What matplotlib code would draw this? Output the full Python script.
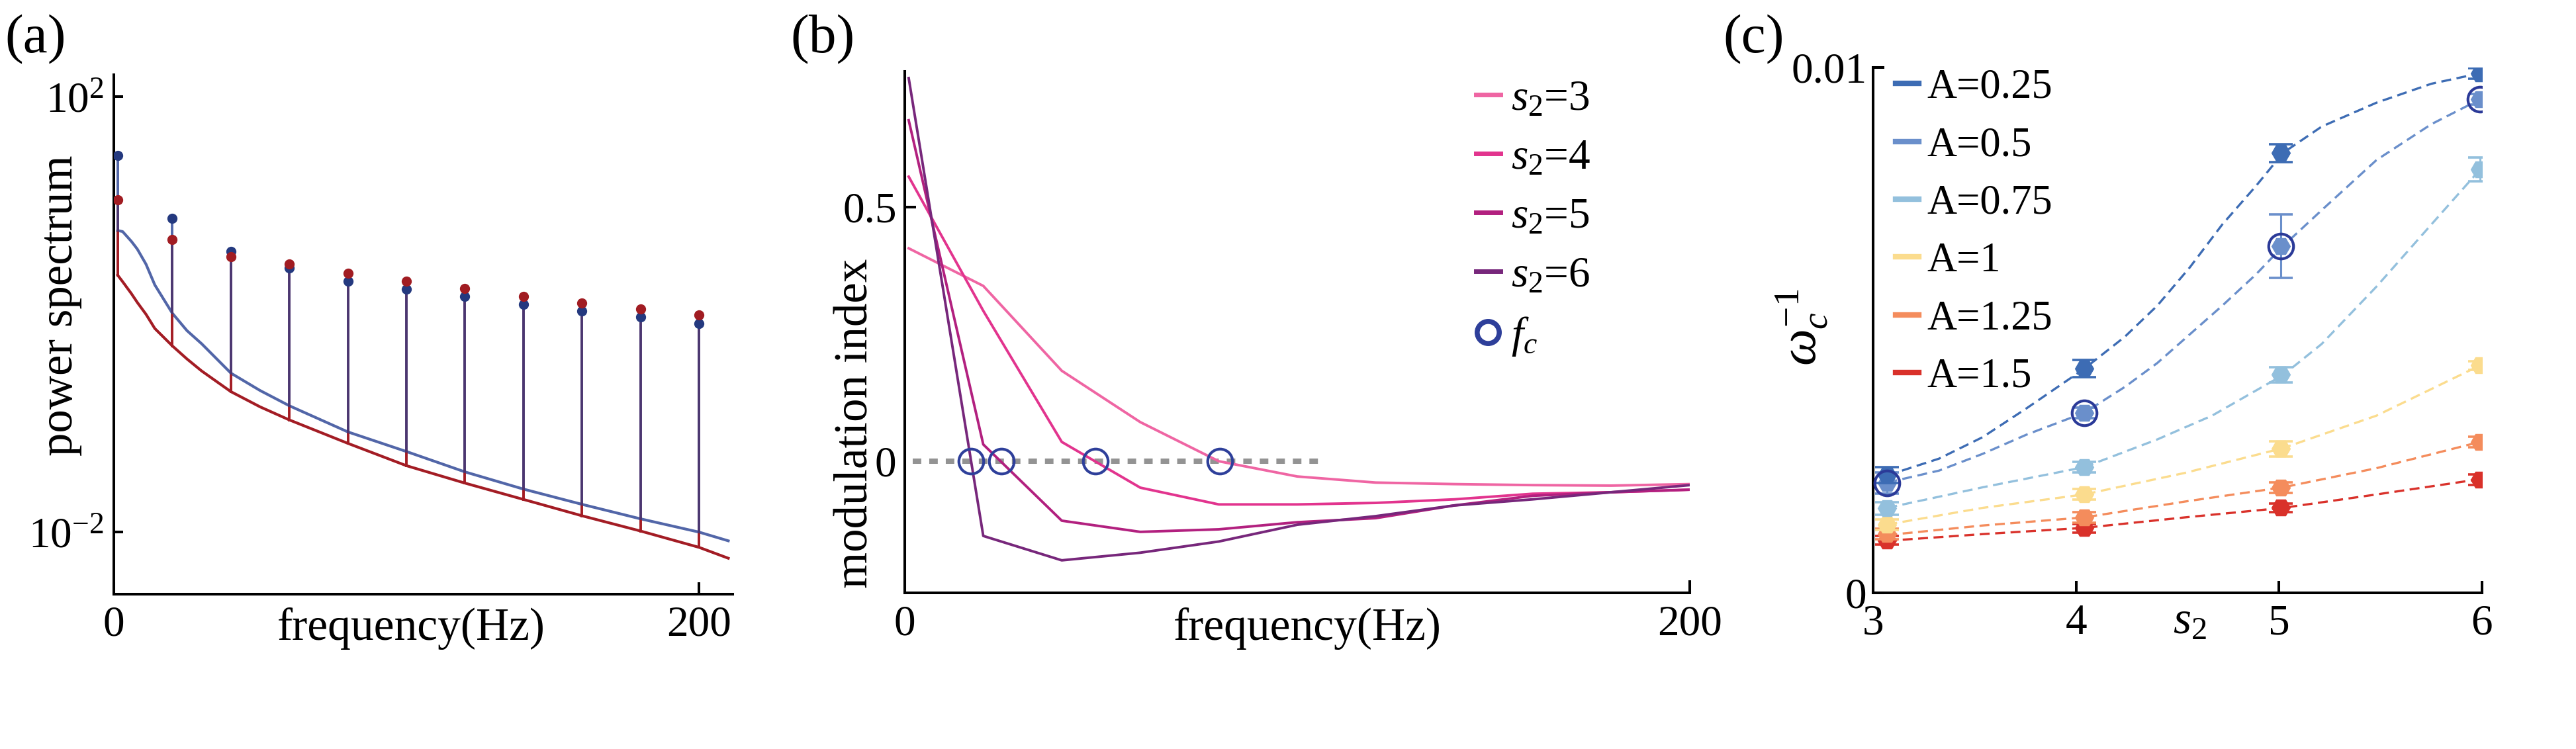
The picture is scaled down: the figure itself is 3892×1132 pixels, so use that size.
import numpy as np
import matplotlib
matplotlib.use('Agg')
import matplotlib.pyplot as plt
from matplotlib.lines import Line2D
from matplotlib.ticker import NullLocator, FixedLocator

W, H, DPI = 3892, 1132, 100

plt.rcParams['font.family'] = ['Liberation Serif', 'DejaVu Serif']
plt.rcParams['mathtext.fontset'] = 'custom'
plt.rcParams['mathtext.rm'] = 'Liberation Serif'
plt.rcParams['mathtext.it'] = 'Liberation Serif:italic'
plt.rcParams['mathtext.bf'] = 'Liberation Serif:bold'

# ---------------- Panel (a) data: log10 power ----------------
spike_freq = [1.3, 20, 40, 60, 80, 100, 120, 140, 160, 180, 200]
blue_peak_log = [1.46, 0.88, 0.579, 0.425, 0.307, 0.232, 0.162, 0.092, 0.03, -0.027, -0.084]
red_peak_log = [1.053, 0.684, 0.53, 0.464, 0.377, 0.302, 0.236, 0.166, 0.105, 0.048, -0.005]
base_freq = [1.3, 3, 6, 8, 11, 14, 20, 25, 30, 40, 50, 60, 80, 100, 120, 140, 160, 180, 200, 210]
blue_base_log = [0.77, 0.76, 0.67, 0.60, 0.46, 0.27, 0.01, -0.15, -0.27, -0.54, -0.70, -0.84,
                 -1.08, -1.26, -1.447, -1.605, -1.745, -1.878, -2.0, -2.08]
red_base_log = [0.36, 0.30, 0.19, 0.11, 0.0, -0.13, -0.29, -0.41, -0.52, -0.71, -0.85, -0.97,
                -1.185, -1.39, -1.55, -1.70, -1.85, -1.99, -2.14, -2.24]

# ---------------- Panel (b) data ----------------
b_freq = [1, 20, 40, 60, 80, 100, 120, 140, 160, 180, 200]
mod_s3 = [0.419, 0.345, 0.178, 0.077, 0.0, -0.03, -0.042, -0.045, -0.047, -0.048, -0.045]
mod_s4 = [0.56, 0.296, 0.038, -0.052, -0.085, -0.085, -0.082, -0.075, -0.064, -0.061, -0.056]
mod_s5 = [0.671, 0.033, -0.117, -0.139, -0.134, -0.12, -0.112, -0.087, -0.068, -0.061, -0.056]
mod_s6 = [0.754, -0.147, -0.195, -0.18, -0.158, -0.125, -0.108, -0.087, -0.075, -0.061, -0.047]
b_labels = [r'$s_2$=3', r'$s_2$=4', r'$s_2$=5', r'$s_2$=6']
fc_freq = [80.3, 48.5, 24.6, 16.9]
zero_line_f = [2, 106]

# ---------------- Panel (c) data ----------------
s2_vals = [3.07, 4.04, 5.01, 5.99]
A_labels = ['A=0.25', 'A=0.5', 'A=0.75', 'A=1', 'A=1.25', 'A=1.5']
w_025 = [0.00224, 0.00427, 0.00837, 0.00989]
w_050 = [0.00209, 0.00343, 0.0066, 0.0094]
w_075 = [0.00161, 0.00239, 0.00415, 0.00806]
w_100 = [0.0013, 0.00188, 0.00274, 0.00433]
w_125 = [0.00112, 0.00144, 0.002, 0.00287]
w_150 = [0.001, 0.00123, 0.00162, 0.00215]
e_025 = [0.00015, 0.00016, 0.00017, 0.0001]
e_050 = [0.0002, 0.0001, 0.0006, 0.0001]
e_075 = [0.00012, 0.0001, 0.00014, 0.00023]
e_100 = [0.0001, 0.0001, 0.00015, 0.00008]
e_125 = [0.0001, 0.0001, 0.0001, 0.0001]
e_150 = [0.00008, 0.00008, 0.00008, 0.0001]
# dashed fit curves
fit_s2_025 = [3.07, 3.325, 3.54, 3.755, 4.04, 4.24, 4.40, 4.56, 4.72, 4.885, 5.02, 5.21, 5.48, 5.75, 5.99]
fit_025 = [0.002236, 0.002555, 0.002964, 0.00351, 0.004265, 0.004874, 0.005466, 0.006193,
           0.00701, 0.007738, 0.008375, 0.008875, 0.00933, 0.00969, 0.00989]
fit_s2_050 = [3.07, 3.325, 3.54, 3.755, 4.04, 4.24, 4.40, 4.56, 4.72, 4.885, 5.02, 5.21, 5.48, 5.75, 5.99]
fit_050 = [0.0021, 0.002327, 0.002646, 0.00301, 0.003428, 0.003919, 0.004374, 0.004919,
           0.005465, 0.006056, 0.006602, 0.007284, 0.008238, 0.00892, 0.009393]
fit_s2_075 = [3.07, 3.54, 4.04, 4.40, 4.67, 5.02, 5.21, 5.48, 5.75, 5.99]
fit_075 = [0.001618, 0.002009, 0.002392, 0.00292, 0.003373, 0.004146, 0.004737, 0.005829,
           0.00701, 0.008056]
fit_s2_100 = [3.07, 3.54, 4.04, 4.535, 5.02, 5.48, 5.99]
fit_100 = [0.0013, 0.001618, 0.001873, 0.002282, 0.002755, 0.003373, 0.004328]
fit_s2_125 = [3.07, 3.54, 4.04, 4.535, 5.02, 5.48, 5.99]
fit_125 = [0.0011, 0.001282, 0.001436, 0.001737, 0.002009, 0.002373, 0.002873]
fit_s2_150 = [3.07, 3.54, 4.04, 4.535, 5.02, 5.48, 5.99]
fit_150 = [0.000991, 0.001118, 0.001237, 0.001436, 0.001618, 0.001873, 0.002164]

# ---------------- figure ----------------
fig = plt.figure(figsize=(W / DPI, H / DPI), dpi=DPI)


def rect(l, t, r, b):
    return [l / W, 1 - b / H, (r - l) / W, (b - t) / H]


def fx(x):
    return x / W


def fy(y):
    return 1 - y / H


SPW = 2.9
TICKFS = 47
LABFS = 50


def style(ax):
    for s in ['top', 'right']:
        ax.spines[s].set_visible(False)
    for s in ['left', 'bottom']:
        ax.spines[s].set_linewidth(SPW)
    ax.tick_params(direction='in', width=SPW, labelsize=TICKFS)


# ---------- (a) ----------
axA = fig.add_axes(rect(172, 113, 1107, 898))
style(axA)
axA.set_yscale('log')
axA.set_xlim(0, 211.5)
axA.set_ylim(10 ** -2.57, 10 ** 2.2)
blue_c = '#5266a8'
red_c = '#a31c24'
purple_c = '#4b3670'
axA.plot(base_freq, 10 ** np.array(blue_base_log), color=blue_c, lw=3.0, zorder=2)
axA.plot(base_freq, 10 ** np.array(red_base_log), color=red_c, lw=3.0, zorder=2)
bmap = dict(zip(base_freq, blue_base_log))
rmap = dict(zip(base_freq, red_base_log))
for f, bd, rd in zip(spike_freq, blue_peak_log, red_peak_log):
    bb, rb = bmap[f], rmap[f]
    axA.plot([f, f], [10 ** rb, 10 ** min(bb, rd)], color=red_c, lw=2.8, zorder=3)
    top_overlap = min(rd, bd)
    if top_overlap > bb:
        axA.plot([f, f], [10 ** bb, 10 ** top_overlap], color=purple_c, lw=2.8, zorder=3)
    if bd > rd:
        axA.plot([f, f], [10 ** max(rd, bb), 10 ** bd], color=blue_c, lw=2.8, zorder=3)
    else:
        axA.plot([f, f], [10 ** max(bd, bb), 10 ** rd], color=red_c, lw=2.8, zorder=3)
axA.plot(spike_freq, 10 ** np.array(blue_peak_log), 'o', color='#24397f', ms=10, zorder=4)
axA.plot(spike_freq, 10 ** np.array(red_peak_log), 'o', color='#a11c22', ms=10, zorder=5)
axA.yaxis.set_major_locator(FixedLocator([1e-2, 1e2]))
axA.yaxis.set_minor_locator(NullLocator())
axA.set_yticklabels([r'$\mathregular{10^{-2}}$', r'$\mathregular{10^{2}}$'])
axA.set_xticks([0, 200])
axA.set_xticklabels(['0', '200'])
axA.tick_params(axis='y', length=10, pad=11)
axA.tick_params(axis='x', length=13, pad=12)
fig.text(fx(92), fy(462), 'power spectrum', rotation=90, ha='center', va='center', fontsize=51)
fig.text(fx(621), fy(967), 'frequency(Hz)', ha='center', va='baseline', fontsize=LABFS)
fig.text(fx(7), fy(22), '(a)', ha='left', va='top', fontsize=60)

# ---------- (b) ----------
axB = fig.add_axes(rect(1367, 108, 2553, 896))
style(axB)
axB.set_xlim(0, 200)
axB.set_ylim(-0.259, 0.767)
b_colors = ['#ef65a3', '#e2348e', '#b2207f', '#77277b']
for vals, c in zip([mod_s3, mod_s4, mod_s5, mod_s6], b_colors):
    axB.plot(b_freq, vals, color=c, lw=2.8, zorder=2)
axB.plot(zero_line_f, [0, 0], color='#939393', lw=5.8, linestyle=(0, (1.6, 1.5)),
         dash_capstyle='butt', zorder=1)
navy = '#2e3f9a'
axB.plot(fc_freq, [0] * len(fc_freq), 'o', mfc='none', mec=navy, mew=3, ms=27, zorder=4)
axB.set_yticks([0, 0.5])
axB.set_yticklabels(['0', '0.5'])
axB.yaxis.get_major_ticks()[0].tick1line.set_visible(False)
axB.set_xticks([0, 200])
axB.set_xticklabels(['0', '200'])
axB.tick_params(axis='y', length=12, pad=9)
axB.tick_params(axis='x', length=14, pad=13)
hB = [Line2D([], [], color=c, lw=5) for c in b_colors]
hB.append(Line2D([], [], ls='none', marker='o', mfc='none', mec=navy, mew=5.5, ms=24))
legB = axB.legend(hB, b_labels + [r'$f_c$'], loc='upper left', bbox_to_anchor=(fx(2230), fy(120)),
                  bbox_transform=fig.transFigure, frameon=False, fontsize=47, handlelength=0.56,
                  handletextpad=0.25, labelspacing=0.45, borderpad=0, borderaxespad=0)
fig.text(fx(1293), fy(640), 'modulation index', rotation=90, ha='center', va='center', fontsize=51)
fig.text(fx(1975), fy(967), 'frequency(Hz)', ha='center', va='baseline', fontsize=LABFS)
fig.text(fx(1194), fy(22), '(b)', ha='left', va='top', fontsize=60)

# ---------- (c) ----------
axC = fig.add_axes(rect(2830, 102, 3750, 896))
style(axC)
axC.set_xlim(3, 6)
axC.set_ylim(0, 0.01)
c_colors = ['#3d6cb4', '#6a8fcb', '#93c0dd', '#fbdc8e', '#f48c5c', '#d9312a']
pts = [w_025, w_050, w_075, w_100, w_125, w_150]
errs = [e_025, e_050, e_075, e_100, e_125, e_150]
fit_x = [fit_s2_025, fit_s2_050, fit_s2_075, fit_s2_100, fit_s2_125, fit_s2_150]
fits = [fit_025, fit_050, fit_075, fit_100, fit_125, fit_150]
for i, (p, e, fxs, ft, c) in enumerate(zip(pts, errs, fit_x, fits, c_colors)):
    axC.plot(fxs, ft, color=c, lw=2.4, linestyle=(0, (4.5, 2.5)), zorder=2)
    axC.errorbar(s2_vals, p, yerr=e, fmt='H', ms=20, color=c, ecolor=c, elinewidth=2.2,
                 capsize=13, capthick=2.6, zorder=10 - i)
axC.plot(s2_vals, w_050, 'o', mfc='none', mec='#2b3a98', mew=3, ms=27, zorder=12)
axC.set_xticks([3, 4, 5, 6])
axC.set_xticklabels(['3', '4', '5', '6'])
axC.set_yticks([0, 0.01])
axC.set_yticklabels(['0', '0.01'])
axC.tick_params(axis='y', length=12, pad=7)
axC.tick_params(axis='x', length=13, pad=12)
hC = [Line2D([], [], color=c, lw=6) for c in c_colors]
legC = axC.legend(hC, A_labels, loc='upper left', bbox_to_anchor=(fx(2864), fy(104)),
                  bbox_transform=fig.transFigure, frameon=False, fontsize=45, handlelength=0.56,
                  handletextpad=0.2, labelspacing=0.47, borderpad=0, borderaxespad=0)
fig.text(fx(2722), fy(495), r'$\omega_c^{-1}$', rotation=90, ha='center', va='center', fontsize=57)
fig.text(fx(3308), fy(957), r'$s_2$', ha='center', va='baseline', fontsize=LABFS)
fig.text(fx(2603), fy(22), '(c)', ha='left', va='top', fontsize=60)

fig.savefig('out.png', dpi=DPI)
